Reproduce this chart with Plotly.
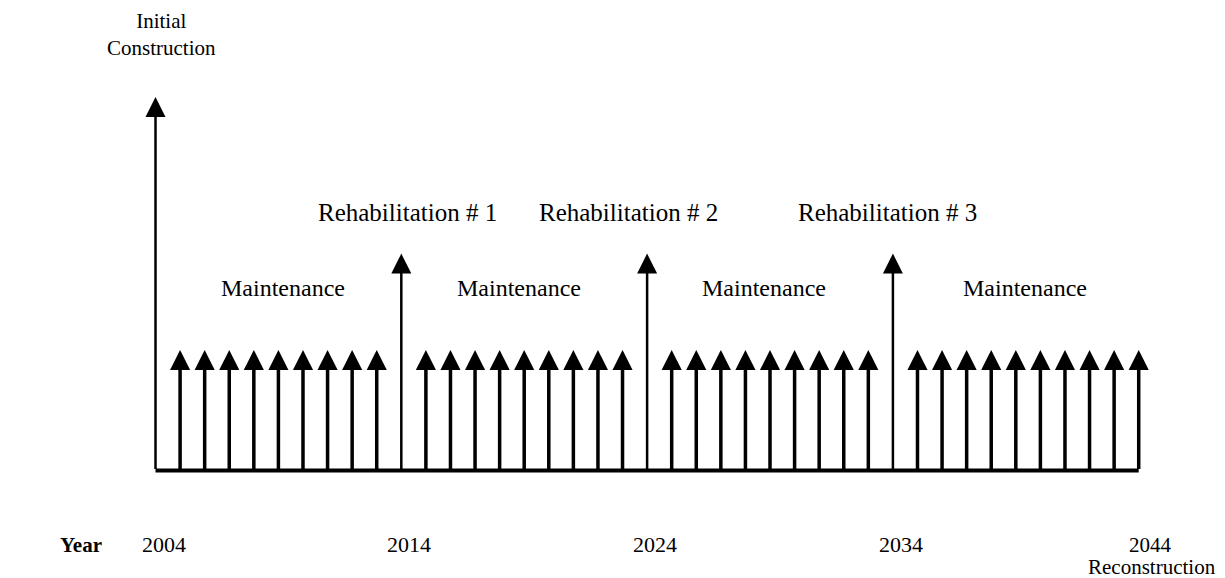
import plotly.graph_objects as go

# ---- data ----
event_labels = ["Initial<br>Construction", "Rehabilitation # 1", "Rehabilitation # 2", "Rehabilitation # 3"]
event_years = [2004, 2014, 2024, 2034]
event_heights = [3.1, 1.8, 1.8, 1.8]

maintenance_years = [2005, 2006, 2007, 2008, 2009, 2010, 2011, 2012, 2013,
                     2015, 2016, 2017, 2018, 2019, 2020, 2021, 2022, 2023,
                     2025, 2026, 2027, 2028, 2029, 2030, 2031, 2032, 2033,
                     2035, 2036, 2037, 2038, 2039, 2040, 2041, 2042, 2043, 2044]
maintenance_heights = [1.0] * len(maintenance_years)

maintenance_label = "Maintenance"
maintenance_label_years = [2009.19, 2018.79, 2028.76, 2039.37]

tick_years = [2004, 2014, 2024, 2034, 2044]
axis_title = "Year"
end_label = "Reconstruction"

# ---- layout constants ----
W, H = 1225, 578
FONT = "Liberation Serif, Times New Roman, serif"
x_range = [1997.999, 2047.836]
y_range = [-0.9585, 3.838]

fig = go.Figure()

# baseline (time axis)
fig.add_trace(go.Scatter(x=[tick_years[0], tick_years[-1]], y=[0, 0], mode="lines",
                         line=dict(color="black", width=4), hoverinfo="skip", showlegend=False))

# maintenance arrows
for yr, h in zip(maintenance_years, maintenance_heights):
    fig.add_annotation(x=yr, y=h, ax=yr, ay=0, xref="x", yref="y", axref="x", ayref="y",
                       text="", showarrow=True, arrowhead=2, arrowsize=1.15, arrowwidth=3.5,
                       arrowcolor="black", standoff=0)

# major events arrows
for yr, h in zip(event_years, event_heights):
    fig.add_annotation(x=yr, y=h, ax=yr, ay=0, xref="x", yref="y", axref="x", ayref="y",
                       text="", showarrow=True, arrowhead=2, arrowsize=1.6, arrowwidth=2.5,
                       arrowcolor="black", standoff=0)

# event labels
event_label_x = [2004.26, 2014.27, 2023.26, 2033.80]
event_label_y = [3.614, 2.137, 2.137, 2.137]
event_label_size = [21, 25, 25, 25]
for lab, lx, ly, fs in zip(event_labels, event_label_x, event_label_y, event_label_size):
    fig.add_annotation(x=lx, y=ly, xref="x", yref="y", text=lab, showarrow=False,
                       font=dict(family=FONT, size=fs, color="black"), align="center")

# maintenance labels
for lx in maintenance_label_years:
    fig.add_annotation(x=lx, y=1.515, xref="x", yref="y", text=maintenance_label, showarrow=False,
                       font=dict(family=FONT, size=24, color="black"))

# year tick labels
for yr in tick_years:
    fig.add_annotation(x=yr, y=-0.618, xref="x", yref="y", text=str(yr), showarrow=False,
                       xshift=12 if yr == tick_years[-1] else 8,
                       font=dict(family=FONT, size=22 if yr != tick_years[-1] else 21, color="black"))

fig.add_annotation(x=tick_years[-1], y=-0.801, xref="x", yref="y", text=end_label, showarrow=False,
                   xshift=13, font=dict(family=FONT, size=21, color="black"))

fig.add_annotation(x=2000.95, y=-0.618, xref="x", yref="y", text="<b>" + axis_title + "</b>",
                   showarrow=False, font=dict(family=FONT, size=21, color="black"))

fig.update_layout(
    width=W, height=H,
    margin=dict(l=0, r=0, t=0, b=0),
    paper_bgcolor="white", plot_bgcolor="white",
    xaxis=dict(range=x_range, visible=False, fixedrange=True),
    yaxis=dict(range=y_range, visible=False, fixedrange=True),
    showlegend=False,
)

fig.write_html("out.html")
